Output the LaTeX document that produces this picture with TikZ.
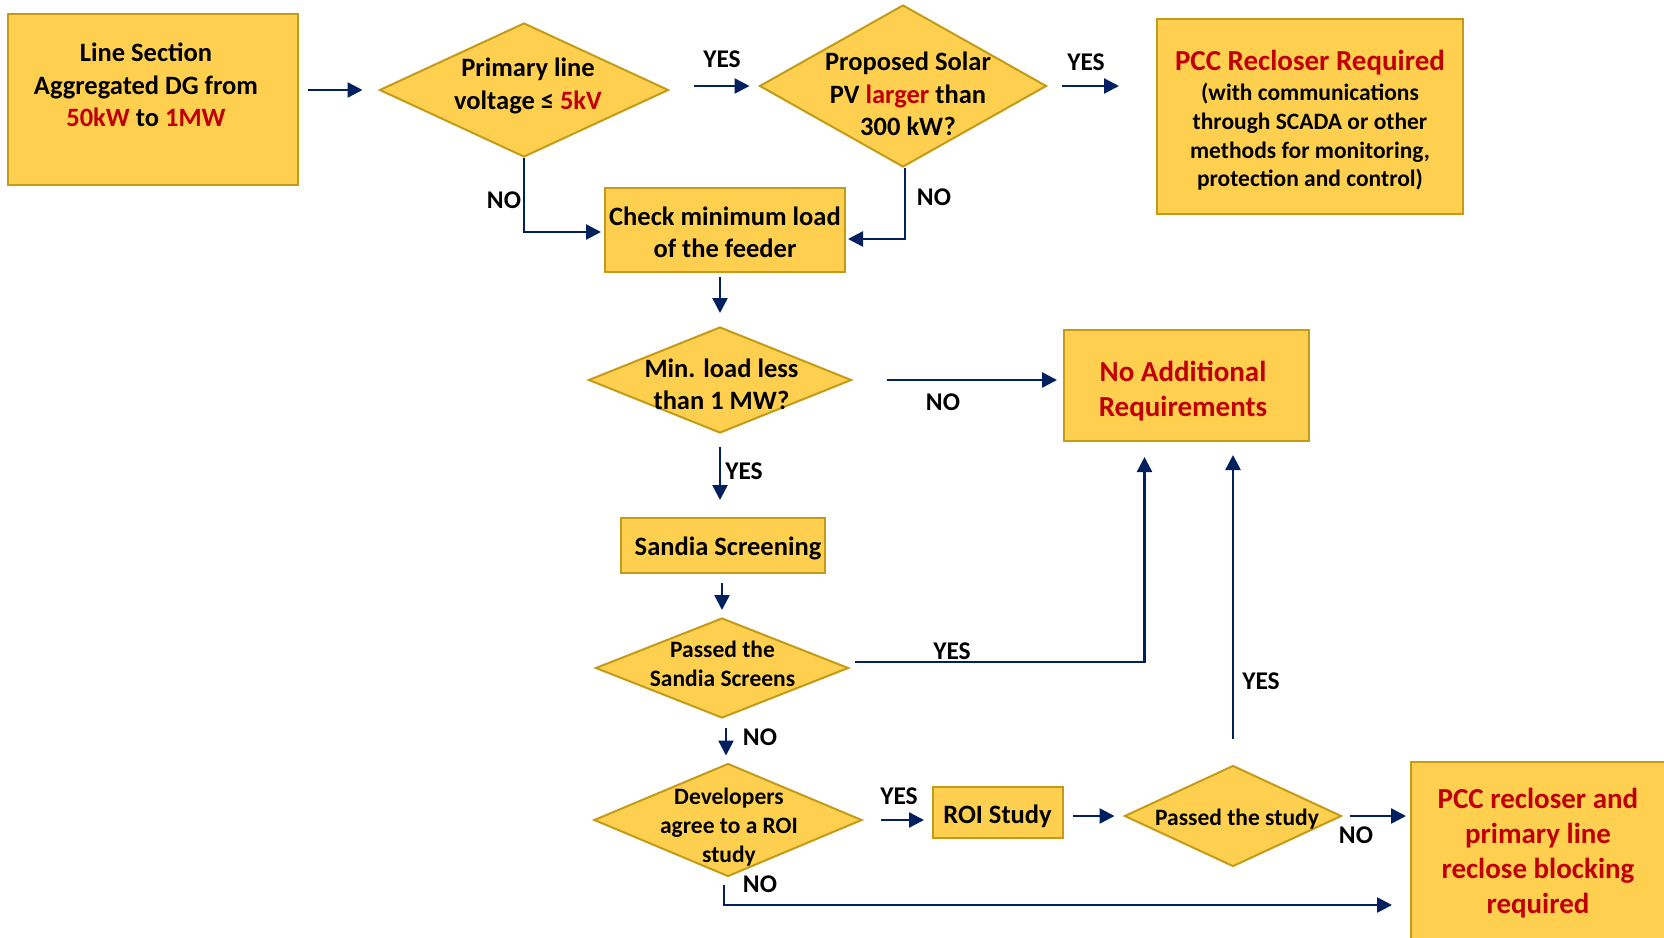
\documentclass[tikz,border=0pt]{standalone}
\usepackage{fontspec}
\setmainfont{Carlito}
\usetikzlibrary{shapes.geometric,arrows.meta}
\definecolor{gold}{HTML}{FFD050}
\definecolor{bord}{HTML}{C49A16}
\definecolor{dred}{HTML}{C00000}
\definecolor{navy}{HTML}{002060}
\newcommand\fmain{\fontsize{26.5}{32.4}\selectfont\bfseries}
\newcommand\fsub{\fontsize{23.5}{28.7}\selectfont\bfseries}
\newcommand\fbig{\fontsize{29}{35}\selectfont\bfseries}
\newcommand\flbl{\fontsize{25.5}{30}\selectfont\bfseries}
\begin{document}
\begin{tikzpicture}[x=1pt,y=-1pt,
  boxn/.style={draw=bord, fill=gold, line width=2pt, rectangle, inner sep=0pt},
  dia/.style={draw=bord, fill=gold, line width=2pt, diamond, inner sep=0pt},
  txt/.style={align=center, inner sep=0pt, text=black, font=\fmain},
  lbl/.style={inner sep=0pt, text=black, font=\flbl},
  arr/.style={draw=navy, line width=2.5pt, -{Triangle[length=15pt,width=15pt]}}]
\useasboundingbox (0,0) rectangle (1664,937);
\fill[white] (0,0) rectangle (1664,937);

% boxes
\node[boxn, minimum width=290pt, minimum height=171pt] (b1) at (153,99.5) {};
\node[txt] (b1t) at (146,85) {Line Section\\Aggregated DG from\\{\color{dred}50kW} to {\color{dred}1MW}};

\node[boxn, minimum width=306pt, minimum height=195pt] (pcc1) at (1310,116.5) {};
\node[txt, font=\fbig, text=dred] (pcc1a) at (1310,63) {PCC Recloser Required};
\node[txt, font=\fsub] (pcc1b) at (1310,137) {(with communications\\through SCADA or other\\methods for monitoring,\\protection and control)};

\node[boxn, minimum width=240pt, minimum height=84pt] (chk) at (725,230) {};
\node[txt] (chkt) at (725,232) {Check minimum load\\of the feeder};

\node[boxn, minimum width=245pt, minimum height=111pt] (noadd) at (1186.5,385.5) {};
\node[txt, font=\fbig, text=dred] (noaddt) at (1183,391) {No Additional\\Requirements};

\node[boxn, minimum width=204pt, minimum height=55pt] (sandia) at (723,545.5) {};
\node[txt] (sandiat) at (728,548) {Sandia Screening};

\node[boxn, minimum width=130pt, minimum height=51pt] (roi) at (998,812.5) {};
\node[txt] (roit) at (997.5,816) {ROI Study};

\node[boxn, minimum width=257pt, minimum height=238pt] (pcc2) at (1539.5,881) {};
\node[txt, font=\fbig, text=dred] (pcc2t) at (1538,853.5) {PCC recloser and\\primary line\\reclose blocking\\required};

% diamonds
\node[dia, minimum width=289pt, minimum height=134pt] (d1) at (524,90) {};
\node[txt] (d1t) at (528,86) {Primary line\\voltage ≤ {\color{dred}5kV}};

\node[dia, minimum width=287pt, minimum height=162pt] (d2) at (903,86) {};
\node[txt] (d2t) at (908,94) {Proposed Solar\\PV {\color{dred}larger} than\\300 kW?};

\node[dia, minimum width=263pt, minimum height=106pt] (d3) at (720,380) {};
\node[txt] (d3t) at (721.5,384) {Min. load less\\than 1 MW?};

\node[dia, minimum width=253pt, minimum height=100pt] (d4) at (722,668) {};
\node[txt, font=\fsub] (d4t) at (722.5,664) {Passed the\\Sandia Screens};

\node[dia, minimum width=268pt, minimum height=113pt] (d5) at (728,820) {};
\node[txt, font=\fsub] (d5t) at (729,827) {Developers\\agree to a ROI\\study};

\node[dia, minimum width=217pt, minimum height=101pt] (d6) at (1233,816) {};
\node[txt, font=\fsub] (d6t) at (1237,819) {Passed the study};

% connectors
\draw[arr, shorten <=9pt, shorten >=16pt] (b1.east |- d1.west) -- (d1.west);
\draw[arr, shorten <=24pt, shorten >=9pt] (d1.east |- d2.west) -- (d2.west);
\draw[arr, shorten <=14pt, shorten >=37pt] (d2.east) -- (d2.east -| pcc1.west);
\draw[arr] (d1.south) |- ([xshift=-3pt,yshift=-2pt]chk.west);
\draw[arr] ([xshift=2pt]d2.south) |- ([xshift=2pt,yshift=-9pt]chk.east);
\draw[arr, shorten <=4pt, shorten >=13pt] (chk.south -| d3.north) -- (d3.north);
\draw[arr, shorten <=34pt, shorten >=6pt] (d3.east) -- (d3.east -| noadd.west);
\draw[arr, shorten <=13pt, shorten >=17pt] (d3.south) -- (d3.south |- sandia.north);
\draw[arr, shorten <=9pt, shorten >=7pt] (sandia.south -| d4.north) -- (d4.north);
\draw[arr] ([xshift=5pt,yshift=6pt]d4.east) -| ([xshift=-42pt,yshift=-15pt]noadd.south);
\draw[arr, shorten <=9pt, shorten >=7pt] ([xshift=4pt]d4.south) -- ([xshift=-2pt]d5.north);
\draw[arr, shorten <=18pt, shorten >=8pt] (d5.east) -- (d5.east -| roi.west);
\draw[arr, shorten <=9pt, shorten >=9pt] (roi.east |- d6.west) -- (d6.west);
\draw[arr, shorten <=26pt, shorten >=13pt] (d6.north) -- (d6.north |- noadd.south);
\draw[arr, shorten <=7pt, shorten >=4pt] (d6.east) -- (d6.east -| pcc2.west);
\draw[arr] ([xshift=-4pt,yshift=-7pt]d5.south) |- ([xshift=-18pt,yshift=-24pt]pcc2.west);

% labels
\node[lbl] (l1) at (722,59) {YES};
\node[lbl] (l2) at (1086,62) {YES};
\node[lbl] (l3) at (504,200) {NO};
\node[lbl] (l4) at (934,197) {NO};
\node[lbl] (l5) at (943,402) {NO};
\node[lbl] (l6) at (744,471) {YES};
\node[lbl] (l7) at (952,651) {YES};
\node[lbl] (l8) at (760,737) {NO};
\node[lbl] (l9) at (899,796) {YES};
\node[lbl] (l10) at (1261,681) {YES};
\node[lbl] (l11) at (1356,835) {NO};
\node[lbl] (l12) at (760,884) {NO};
\end{tikzpicture}
\end{document}
